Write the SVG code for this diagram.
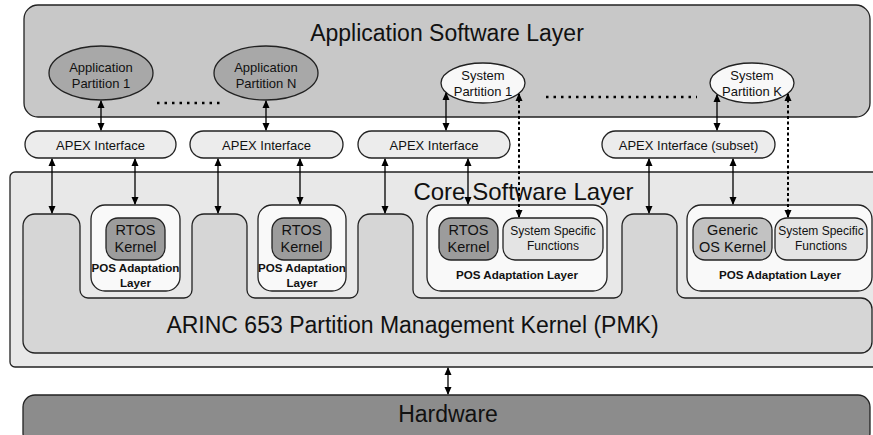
<svg xmlns="http://www.w3.org/2000/svg" width="873" height="435" viewBox="0 0 873 435">
<defs>
<marker id="ah" markerWidth="8" markerHeight="8" refX="7" refY="4" orient="auto-start-reverse" markerUnits="userSpaceOnUse">
<path d="M0,0.5 L8,4 L0,7.5 z" fill="#000"/>
</marker>
<style>
.ln{stroke:#222;stroke-width:1.3}
.t{font-family:"Liberation Sans",Arial,sans-serif;fill:#111;text-anchor:middle}
.big{font-size:23px}
.m{font-size:13px}
.k{font-size:14.5px}
.s{font-size:12px}
.b{font-size:11.6px;font-weight:bold}
.apex{fill:#ececec}
.pos{fill:#f9f9f9}
.rtos{fill:#9c9c9c}
.ssf{fill:#e4e4e4}
.ar{stroke:#000;stroke-width:1.3;fill:none;marker-start:url(#ah);marker-end:url(#ah)}
.da{stroke:#000;stroke-width:2;fill:none;stroke-dasharray:3 2.5;marker-start:url(#ah);marker-end:url(#ah)}
.dots{stroke:#000;stroke-width:2.5;fill:none;stroke-dasharray:2.5 5}
</style>
</defs>
<rect width="873" height="435" fill="#fff"/>

<g id="app-layer">
<rect x="24" y="5" width="846" height="112" rx="14" fill="#c8c8c8" class="ln"/>
<text x="447" y="41" class="t big">Application Software Layer</text>
</g>

<g id="app-partition-1">
<ellipse cx="101" cy="73" rx="52" ry="27" fill="#a8a8a8" class="ln"/>
<text x="101" y="72" class="t m">Application</text>
<text x="101" y="88" class="t m">Partition 1</text>
</g>
<g id="app-partition-n">
<ellipse cx="266" cy="73" rx="52" ry="27" fill="#a8a8a8" class="ln"/>
<text x="266" y="72" class="t m">Application</text>
<text x="266" y="88" class="t m">Partition N</text>
</g>
<g id="sys-partition-1">
<ellipse cx="483" cy="83" rx="42" ry="20" fill="#f8f8f8" class="ln"/>
<text x="483" y="80" class="t m">System</text>
<text x="483" y="96" class="t m">Partition 1</text>
</g>
<g id="sys-partition-k">
<ellipse cx="752" cy="83" rx="42" ry="20" fill="#f8f8f8" class="ln"/>
<text x="752" y="80" class="t m">System</text>
<text x="752" y="96" class="t m">Partition K</text>
</g>

<g id="apex-1"><rect x="25" y="131" width="151" height="27" rx="13.5" class="apex ln"/><text x="100.5" y="149.5" class="t m">APEX Interface</text></g>
<g id="apex-2"><rect x="190" y="131" width="153" height="27" rx="13.5" class="apex ln"/><text x="266.5" y="149.5" class="t m">APEX Interface</text></g>
<g id="apex-3"><rect x="358" y="131" width="152" height="27" rx="13.5" class="apex ln"/><text x="434" y="149.5" class="t m">APEX Interface</text></g>
<g id="apex-4"><rect x="602" y="131" width="173" height="27" rx="13.5" class="apex ln"/><text x="688.5" y="149.5" class="t m">APEX Interface (subset)</text></g>

<g id="core-layer">
<rect x="10" y="172" width="870" height="195" rx="5" fill="#e8e8e8" class="ln"/>
</g>

<g id="pmk">
<path d="M35,214 H68 A12,12 0 0 1 80,226 V290 A8,8 0 0 0 88,298 H184 A8,8 0 0 0 192,290 V226 A12,12 0 0 1 204,214 H235 A12,12 0 0 1 247,226 V290 A8,8 0 0 0 255,298 H350 A8,8 0 0 0 358,290 V226 A12,12 0 0 1 370,214 H401 A12,12 0 0 1 413,226 V290 A8,8 0 0 0 421,298 H614 A8,8 0 0 0 622,290 V226 A12,12 0 0 1 634,214 H665 A12,12 0 0 1 677,226 V290 A8,8 0 0 0 685,298 H861 A11,11 0 0 1 872,309 V342 A11,11 0 0 1 861,353 H35 A12,12 0 0 1 23,341 V226 A12,12 0 0 1 35,214 Z" fill="#d6d6d6" class="ln"/>
<text x="412.5" y="333" class="t big">ARINC 653 Partition Management Kernel (PMK)</text>
</g>

<g id="pos-1">
<rect x="91" y="205" width="89" height="86" rx="14" class="pos ln"/>
<rect x="106" y="218" width="59" height="42" rx="12" class="rtos ln"/>
<text x="135.5" y="235" class="t k">RTOS</text>
<text x="135.5" y="252" class="t k">Kernel</text>
<text x="135.5" y="272" class="t b">POS Adaptation</text>
<text x="135.5" y="287" class="t b">Layer</text>
</g>
<g id="pos-2">
<rect x="258" y="205" width="88" height="86" rx="14" class="pos ln"/>
<rect x="272" y="218" width="59" height="42" rx="12" class="rtos ln"/>
<text x="301.5" y="235" class="t k">RTOS</text>
<text x="301.5" y="252" class="t k">Kernel</text>
<text x="302" y="272" class="t b">POS Adaptation</text>
<text x="302" y="287" class="t b">Layer</text>
</g>
<g id="pos-3">
<rect x="427" y="205" width="180" height="86" rx="14" class="pos ln"/>
<rect x="439" y="218" width="59" height="42" rx="12" class="rtos ln"/>
<text x="468.5" y="235" class="t k">RTOS</text>
<text x="468.5" y="252" class="t k">Kernel</text>
<rect x="503" y="218" width="100" height="42" rx="12" class="ssf ln"/>
<text x="553" y="235" class="t s">System Specific</text>
<text x="553" y="250" class="t s">Functions</text>
<text x="517" y="279" class="t b">POS Adaptation Layer</text>
</g>
<g id="pos-4">
<rect x="687" y="205" width="185" height="86" rx="14" class="pos ln"/>
<rect x="693" y="218" width="79" height="42" rx="12" fill="#c2c2c2" class="ln"/>
<text x="732.5" y="235" class="t k">Generic</text>
<text x="732.5" y="252" class="t k">OS Kernel</text>
<rect x="775" y="218" width="92" height="42" rx="12" class="ssf ln"/>
<text x="821" y="235" class="t s">System Specific</text>
<text x="821" y="250" class="t s">Functions</text>
<text x="780" y="279" class="t b">POS Adaptation Layer</text>
</g>

<g id="core-title">
<text x="523.5" y="200" class="t" style="font-size:24px">Core Software Layer</text>
</g>

<g id="hardware">
<rect x="23" y="395" width="847" height="50" rx="12" fill="#8c8c8c" class="ln"/>
<text x="448" y="422" class="t big">Hardware</text>
</g>

<g id="connectors">
<line x1="101" y1="101" x2="101" y2="130" class="ar"/>
<line x1="266" y1="101" x2="266" y2="130" class="ar"/>
<line x1="446" y1="93" x2="446" y2="130" class="ar"/>
<line x1="717" y1="95" x2="717" y2="130" class="ar"/>
<line x1="52" y1="159" x2="52" y2="213" class="ar"/>
<line x1="135" y1="159" x2="135" y2="204" class="ar"/>
<line x1="218" y1="159" x2="218" y2="213" class="ar"/>
<line x1="300" y1="159" x2="300" y2="204" class="ar"/>
<line x1="385" y1="159" x2="385" y2="213" class="ar"/>
<line x1="468" y1="159" x2="468" y2="204" class="ar"/>
<line x1="649" y1="159" x2="649" y2="213" class="ar"/>
<line x1="733" y1="159" x2="733" y2="204" class="ar"/>
<line x1="448" y1="368" x2="448" y2="394" class="ar"/>
<line x1="519" y1="94" x2="519" y2="217" class="da"/>
<line x1="788" y1="94" x2="788" y2="217" class="da"/>
<line x1="157" y1="103" x2="220" y2="103" class="dots"/>
<line x1="546" y1="97" x2="697" y2="97" class="dots"/>
</g>
</svg>
